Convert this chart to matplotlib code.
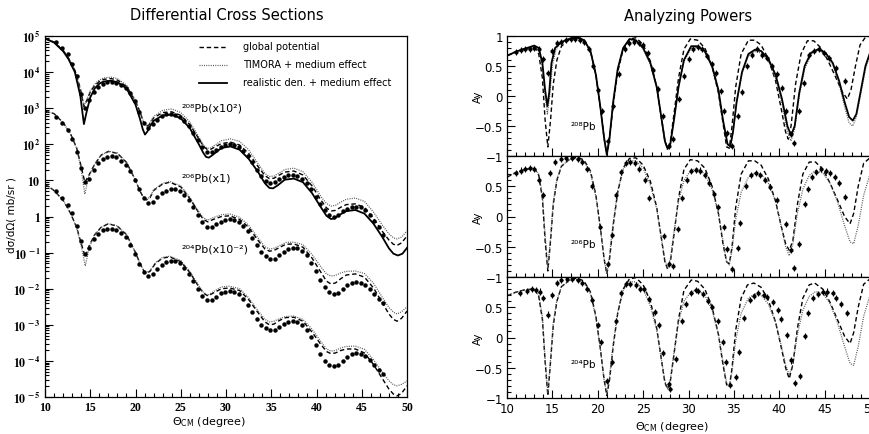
import numpy as np
import matplotlib
matplotlib.use("Agg")
import matplotlib.pyplot as plt
from matplotlib.ticker import MultipleLocator, LogLocator, NullFormatter

# ---------------- data: differential cross sections (log10 of mb/sr) ----------------
xs208_global = [(10,4.93),(11,4.83),(12,4.6),(12.6,4.38),(13.3,4.05),(13.9,3.55),(14.3,3.05),(14.6,3.2),(15,3.45),(15.5,3.63),(16,3.74),(16.5,3.8),(17.3,3.82),(18,3.78),(19,3.6),(20,3.2),(20.5,2.9),(20.9,2.6),(21.2,2.49),(21.5,2.54),(22,2.73),(23,2.88),(24,2.9),(25,2.8),(26,2.55),(27,2.15),(27.5,1.95),(27.9,1.86),(28.3,1.86),(28.8,1.93),(29.5,2.02),(30.5,2.06),(31.5,1.98),(32.5,1.75),(33.5,1.4),(34.3,1.13),(34.8,1.05),(35.3,1.06),(35.9,1.15),(36.5,1.23),(37.5,1.26),(38.5,1.15),(39.5,0.85),(40.5,0.45),(41.1,0.24),(41.6,0.15),(42.1,0.17),(42.7,0.26),(43.3,0.33),(44.3,0.35),(45.3,0.25),(46.3,-0.05),(47.3,-0.42),(48.0,-0.65),(48.5,-0.77),(48.9,-0.8),(49.4,-0.73),(50,-0.54)]
xs208_timora = [(10,4.93),(11,4.84),(12,4.61),(12.6,4.4),(13.3,4.07),(13.9,3.5),(14.3,3.08),(14.6,3.22),(15,3.48),(15.5,3.67),(16,3.78),(16.5,3.84),(17.3,3.86),(18,3.82),(19,3.64),(20,3.22),(20.5,2.9),(20.9,2.62),(21.2,2.51),(21.5,2.56),(22,2.77),(23,2.94),(24,2.98),(25,2.88),(26,2.62),(27,2.2),(27.5,1.98),(27.9,1.89),(28.3,1.9),(28.8,1.98),(29.5,2.1),(30.5,2.15),(31.5,2.08),(32.5,1.85),(33.5,1.48),(34.3,1.19),(34.8,1.11),(35.3,1.12),(35.9,1.21),(36.5,1.3),(37.5,1.34),(38.5,1.24),(39.5,0.95),(40.5,0.55),(41.1,0.36),(41.6,0.29),(42.1,0.31),(42.7,0.4),(43.3,0.48),(44.3,0.51),(45.3,0.42),(46.3,0.12),(47.3,-0.25),(48.0,-0.48),(48.5,-0.59),(48.9,-0.62),(49.4,-0.57),(50,-0.4)]
xs208_real = [(10,4.93),(11,4.82),(12,4.58),(12.6,4.36),(13.3,4.0),(13.9,3.35),(14.3,2.56),(14.6,2.9),(15,3.3),(15.5,3.55),(16,3.68),(16.5,3.74),(17.3,3.76),(18,3.72),(19,3.55),(20,3.1),(20.5,2.7),(20.8,2.42),(21.05,2.27),(21.3,2.35),(21.6,2.5),(22,2.65),(23,2.8),(24,2.82),(25,2.72),(26,2.45),(27,2.0),(27.5,1.76),(27.8,1.65),(28.1,1.63),(28.5,1.7),(29.5,1.9),(30.5,1.94),(31.5,1.85),(32.5,1.6),(33.5,1.25),(34.3,0.92),(34.8,0.79),(35.2,0.78),(35.7,0.86),(36.5,1.02),(37.5,1.05),(38.5,0.95),(39.5,0.65),(40.5,0.25),(41.1,0.02),(41.6,-0.07),(42.0,-0.05),(42.5,0.04),(43.3,0.15),(44.3,0.18),(45.3,0.08),(46.3,-0.2),(47.3,-0.58),(48.0,-0.88),(48.5,-1.03),(49.0,-1.08),(49.5,-1.03),(50,-0.87)]
xs206_global = [(10,2.92),(11,2.85),(12,2.6),(12.8,2.3),(13.5,1.9),(14.0,1.38),(14.4,0.95),(14.8,1.12),(15.5,1.45),(16.2,1.7),(17.0,1.8),(18.0,1.75),(19.0,1.5),(20.0,1.0),(20.5,0.7),(20.9,0.52),(21.2,0.46),(21.6,0.52),(22.0,0.72),(23.0,0.9),(23.8,0.95),(25.0,0.82),(26.0,0.5),(27.0,0.1),(27.5,-0.08),(28.0,-0.15),(28.6,-0.08),(29.5,0.0),(30.4,0.02),(31.5,-0.08),(32.5,-0.3),(33.5,-0.65),(34.3,-0.9),(34.8,-0.96),(35.3,-0.94),(35.9,-0.86),(36.6,-0.77),(37.5,-0.76),(38.5,-0.85),(39.5,-1.15),(40.5,-1.55),(41.1,-1.79),(41.6,-1.87),(42.1,-1.84),(42.7,-1.72),(43.3,-1.62),(44.3,-1.59),(45.3,-1.68),(46.3,-1.98),(47.3,-2.4),(48.0,-2.7),(48.5,-2.85),(48.9,-2.9),(49.4,-2.82),(50,-2.62)]
xs206_timora = [(10,2.92),(11,2.85),(12,2.6),(12.8,2.3),(13.5,1.88),(14.0,1.3),(14.4,0.62),(14.8,1.08),(15.5,1.45),(16.2,1.7),(17.0,1.81),(18.0,1.76),(19.0,1.5),(20.0,1.0),(20.5,0.7),(20.9,0.52),(21.2,0.47),(21.6,0.54),(22.0,0.74),(23.0,0.92),(23.8,0.97),(25.0,0.85),(26.0,0.53),(27.0,0.13),(27.5,-0.04),(28.0,-0.1),(28.6,-0.03),(29.5,0.05),(30.4,0.07),(31.5,-0.02),(32.5,-0.24),(33.5,-0.58),(34.3,-0.84),(34.8,-0.9),(35.3,-0.88),(35.9,-0.81),(36.6,-0.72),(37.5,-0.71),(38.5,-0.78),(39.5,-1.05),(40.5,-1.4),(41.1,-1.59),(41.6,-1.65),(42.1,-1.63),(42.7,-1.56),(43.3,-1.52),(44.3,-1.51),(45.3,-1.58),(46.3,-1.85),(47.3,-2.25),(48.0,-2.52),(48.5,-2.65),(48.9,-2.7),(49.4,-2.64),(50,-2.5)]
xs204_global = [(10,0.9),(11,0.72),(12,0.45),(12.8,0.1),(13.5,-0.3),(14.0,-0.75),(14.45,-1.12),(14.9,-0.8),(15.5,-0.5),(16.2,-0.3),(17.0,-0.2),(18.0,-0.27),(19.0,-0.5),(20.0,-1.0),(20.5,-1.3),(20.9,-1.5),(21.2,-1.57),(21.6,-1.52),(22.2,-1.3),(23.0,-1.15),(23.8,-1.12),(25.0,-1.25),(26.0,-1.55),(27.0,-1.95),(27.5,-2.12),(28.0,-2.2),(28.6,-2.12),(29.5,-2.0),(30.4,-1.98),(31.5,-2.05),(32.5,-2.3),(33.5,-2.65),(34.3,-2.92),(34.8,-3.0),(35.3,-2.98),(35.9,-2.88),(36.6,-2.8),(37.5,-2.79),(38.5,-2.9),(39.5,-3.2),(40.5,-3.55),(41.1,-3.74),(41.6,-3.8),(42.1,-3.78),(42.7,-3.71),(43.3,-3.67),(44.3,-3.67),(45.3,-3.78),(46.3,-4.1),(47.3,-4.5),(48.0,-4.78),(48.5,-4.92),(48.9,-4.97),(49.4,-4.9),(50,-4.69)]
xs204_timora = [(10,0.9),(11,0.72),(12,0.45),(12.8,0.1),(13.5,-0.32),(14.0,-0.82),(14.45,-1.37),(14.9,-0.85),(15.5,-0.5),(16.2,-0.3),(17.0,-0.2),(18.0,-0.26),(19.0,-0.5),(20.0,-1.0),(20.5,-1.3),(20.9,-1.49),(21.2,-1.56),(21.6,-1.5),(22.2,-1.28),(23.0,-1.13),(23.8,-1.1),(25.0,-1.22),(26.0,-1.52),(27.0,-1.92),(27.5,-2.1),(28.0,-2.18),(28.6,-2.08),(29.5,-1.95),(30.4,-1.93),(31.5,-2.0),(32.5,-2.25),(33.5,-2.6),(34.3,-2.85),(34.8,-2.92),(35.3,-2.9),(35.9,-2.83),(36.6,-2.77),(37.5,-2.76),(38.5,-2.85),(39.5,-3.12),(40.5,-3.47),(41.1,-3.67),(41.6,-3.73),(42.1,-3.71),(42.7,-3.64),(43.3,-3.6),(44.3,-3.59),(45.3,-3.68),(46.3,-3.97),(47.3,-4.32),(48.0,-4.55),(48.5,-4.66),(48.9,-4.69),(49.4,-4.65),(50,-4.56)]

xs_theta = [11.2, 11.9, 12.5, 13.0, 13.5, 14.0, 14.4, 14.9, 15.4, 15.9,
            16.4, 16.9, 17.4, 17.9, 18.4, 18.9, 19.4, 19.9, 20.4, 20.9,
            21.4, 21.9, 22.4, 22.9, 23.4, 23.9, 24.4, 24.9, 25.4, 25.9,
            26.4, 26.9, 27.4, 27.9, 28.4, 28.9, 29.4, 29.9, 30.4, 30.9,
            31.4, 31.9, 32.4, 32.9, 33.4, 33.9, 34.4, 34.9, 35.4, 35.9,
            36.4, 36.9, 37.4, 37.9, 38.4, 38.9, 39.4, 39.9, 40.4, 40.9,
            41.4, 41.9, 42.4, 42.9, 43.4, 43.9, 44.4, 44.9, 45.4, 45.9,
            46.4, 46.9, 47.4]
xs208_data = [4.82, 4.68, 4.5, 4.22, 3.88, 3.4, 3.0, 3.22, 3.45, 3.6,
              3.68, 3.72, 3.73, 3.7, 3.65, 3.55, 3.42, 3.2, 2.9, 2.6,
              2.45, 2.55, 2.68, 2.78, 2.83, 2.84, 2.82, 2.75, 2.65, 2.5,
              2.32, 2.12, 1.92, 1.8, 1.78, 1.85, 1.92, 1.97, 2.0, 1.98,
              1.92, 1.82, 1.68, 1.5, 1.3, 1.12, 0.98, 0.92, 0.95, 1.03,
              1.1, 1.15, 1.16, 1.12, 1.05, 0.92, 0.75, 0.55, 0.35, 0.18,
              0.05, 0.0, 0.05, 0.15, 0.22, 0.26, 0.27, 0.25, 0.18, 0.05,
              -0.12, -0.3, -0.5]
xs206_data = [2.75, 2.6, 2.4, 2.15, 1.8, 1.35, 0.95, 1.05, 1.3, 1.48,
              1.6, 1.66, 1.68, 1.64, 1.55, 1.42, 1.25, 1.02, 0.75, 0.5,
              0.38, 0.4, 0.55, 0.65, 0.72, 0.76, 0.76, 0.7, 0.6, 0.45,
              0.25, 0.05, -0.15, -0.28, -0.3, -0.22, -0.15, -0.1, -0.08, -0.1,
              -0.15, -0.25, -0.4, -0.6, -0.8, -0.98, -1.1, -1.17, -1.17, -1.08,
              -0.98, -0.9, -0.87, -0.88, -0.95, -1.08, -1.28, -1.5, -1.75, -1.95,
              -2.08, -2.15, -2.12, -2.0, -1.9, -1.83, -1.81, -1.83, -1.9, -2.02,
              -2.15, -2.28, -2.4]
xs204_data = [0.72, 0.52, 0.33, 0.1, -0.25, -0.68, -1.05, -0.88, -0.62, -0.48,
              -0.38, -0.34, -0.34, -0.38, -0.45, -0.58, -0.78, -1.05, -1.32, -1.55,
              -1.65, -1.6, -1.45, -1.33, -1.25, -1.22, -1.24, -1.3, -1.42, -1.6,
              -1.8, -2.0, -2.2, -2.3, -2.32, -2.22, -2.13, -2.08, -2.06, -2.08,
              -2.15, -2.28, -2.45, -2.65, -2.85, -3.0, -3.1, -3.15, -3.15, -3.07,
              -2.98, -2.92, -2.9, -2.92, -3.0, -3.15, -3.35, -3.55, -3.8, -4.0,
              -4.1, -4.15, -4.12, -4.0, -3.88, -3.8, -3.78, -3.8, -3.87, -3.98,
              -4.1, -4.25, -4.35]

# ---------------- data: analyzing powers ----------------
ay208_global = [(10,0.67),(11,0.74),(12,0.79),(13,0.82),(13.5,0.7),(13.9,0.3),(14.2,-0.4),(14.5,-0.85),(14.8,-0.4),(15.1,0.2),(15.5,0.6),(16,0.83),(17,0.96),(17.8,0.98),(18.5,0.93),(19.2,0.75),(19.8,0.35),(20.3,-0.2),(20.7,-0.7),(21.0,-0.98),(21.3,-0.7),(21.7,-0.15),(22.2,0.4),(22.8,0.78),(23.5,0.95),(24.2,0.97),(25,0.86),(25.8,0.58),(26.5,0.15),(27.0,-0.35),(27.4,-0.75),(27.7,-0.88),(28.0,-0.75),(28.4,-0.3),(28.9,0.3),(29.5,0.78),(30.2,0.95),(31,0.93),(31.8,0.8),(32.6,0.5),(33.3,0.05),(33.8,-0.45),(34.2,-0.85),(34.5,-0.87),(34.8,-0.5),(35.2,0.15),(35.8,0.7),(36.6,0.93),(37.3,0.93),(38,0.85),(38.8,0.62),(39.6,0.25),(40.2,-0.2),(40.7,-0.6),(41.0,-0.72),(41.3,-0.5),(41.8,0.2),(42.4,0.7),(43.1,0.92),(43.8,0.92),(44.6,0.8),(45.4,0.58),(46.2,0.32),(46.9,0.08),(47.5,-0.05),(47.9,0.1),(48.4,0.5),(48.9,0.85),(49.5,0.98),(50,1.0)]
ay208_timora = [(10,0.67),(11,0.74),(12,0.79),(13,0.83),(13.5,0.78),(13.9,0.5),(14.2,0.0),(14.45,-0.3),(14.7,0.0),(15.0,0.5),(15.4,0.78),(16,0.9),(17,0.96),(17.8,0.96),(18.5,0.92),(19.2,0.73),(19.8,0.33),(20.3,-0.2),(20.7,-0.7),(21.0,-0.97),(21.3,-0.68),(21.7,-0.1),(22.2,0.45),(22.8,0.8),(23.5,0.94),(24.2,0.92),(25,0.79),(25.8,0.53),(26.5,0.13),(27.0,-0.37),(27.4,-0.77),(27.7,-0.9),(28.0,-0.78),(28.4,-0.38),(28.9,0.15),(29.5,0.58),(30.3,0.8),(31,0.81),(31.8,0.72),(32.6,0.47),(33.3,0.06),(33.8,-0.43),(34.3,-0.83),(34.6,-0.87),(34.9,-0.62),(35.3,-0.12),(35.9,0.38),(36.6,0.67),(37.3,0.74),(38,0.72),(38.8,0.58),(39.6,0.3),(40.3,-0.12),(40.9,-0.6),(41.3,-0.75),(41.7,-0.55),(42.2,0.0),(42.8,0.45),(43.5,0.7),(44.3,0.76),(45.1,0.7),(45.9,0.52),(46.6,0.2),(47.2,-0.18),(47.7,-0.45),(48.1,-0.5),(48.5,-0.35),(49.0,0.05),(49.5,0.45),(50,0.68)]
ay208_real = [(10,0.67),(11,0.74),(12,0.79),(13,0.84),(13.5,0.8),(13.9,0.55),(14.2,0.1),(14.45,-0.17),(14.65,0.05),(14.9,0.55),(15.3,0.8),(16,0.9),(17,0.96),(17.8,0.97),(18.5,0.93),(19.2,0.75),(19.8,0.35),(20.3,-0.2),(20.7,-0.7),(21.0,-0.98),(21.3,-0.7),(21.7,-0.1),(22.2,0.45),(22.8,0.8),(23.5,0.95),(24.2,0.93),(25,0.8),(25.8,0.55),(26.5,0.15),(27.0,-0.35),(27.4,-0.75),(27.7,-0.88),(28.0,-0.8),(28.4,-0.4),(28.9,0.15),(29.5,0.6),(30.3,0.83),(31,0.83),(31.8,0.75),(32.6,0.5),(33.3,0.1),(33.8,-0.4),(34.3,-0.8),(34.6,-0.84),(34.9,-0.6),(35.3,-0.1),(35.9,0.4),(36.6,0.7),(37.3,0.77),(38,0.75),(38.8,0.62),(39.6,0.35),(40.3,-0.05),(40.9,-0.5),(41.3,-0.66),(41.7,-0.5),(42.2,0.05),(42.8,0.5),(43.5,0.72),(44.3,0.78),(45.1,0.72),(45.9,0.55),(46.6,0.25),(47.2,-0.1),(47.7,-0.35),(48.1,-0.41),(48.5,-0.3),(49.0,0.1),(49.5,0.5),(50,0.72)]
ay206_global = [(10,0.65),(11,0.73),(12,0.78),(13,0.8),(13.5,0.68),(13.9,0.3),(14.2,-0.4),(14.5,-0.9),(14.8,-0.4),(15.1,0.2),(15.5,0.6),(16,0.83),(17,0.96),(17.8,0.98),(18.5,0.93),(19.2,0.75),(19.8,0.35),(20.3,-0.2),(20.7,-0.7),(21.0,-0.95),(21.3,-0.7),(21.7,-0.15),(22.2,0.4),(22.8,0.8),(23.5,0.96),(24.2,0.97),(25,0.85),(25.8,0.58),(26.5,0.15),(27.0,-0.35),(27.4,-0.75),(27.7,-0.87),(28.0,-0.75),(28.4,-0.3),(28.9,0.3),(29.5,0.78),(30.2,0.94),(31,0.92),(31.8,0.8),(32.6,0.5),(33.3,0.05),(33.8,-0.45),(34.2,-0.75),(34.5,-0.78),(34.8,-0.5),(35.2,0.15),(35.8,0.7),(36.6,0.92),(37.3,0.92),(38,0.85),(38.8,0.62),(39.6,0.25),(40.2,-0.15),(40.7,-0.45),(41.1,-0.56),(41.5,-0.4),(42.0,0.2),(42.6,0.7),(43.3,0.9),(44.0,0.9),(44.8,0.78),(45.6,0.55),(46.4,0.28),(47.2,0.0),(47.8,-0.12),(48.2,0.05),(48.7,0.5),(49.3,0.88),(50,0.97)]
ay206_timora = [(10,0.65),(11,0.73),(12,0.78),(13,0.8),(13.5,0.7),(13.9,0.35),(14.2,-0.3),(14.5,-0.85),(14.8,-0.35),(15.1,0.25),(15.5,0.62),(16,0.84),(17,0.95),(17.8,0.96),(18.5,0.91),(19.2,0.72),(19.8,0.32),(20.3,-0.2),(20.7,-0.7),(21.0,-0.95),(21.3,-0.65),(21.7,-0.1),(22.2,0.42),(22.8,0.78),(23.5,0.92),(24.2,0.92),(25,0.8),(25.8,0.52),(26.5,0.12),(27.0,-0.35),(27.4,-0.72),(27.7,-0.85),(28.0,-0.7),(28.4,-0.25),(28.9,0.25),(29.5,0.6),(30.3,0.77),(31,0.79),(31.8,0.7),(32.6,0.45),(33.3,0.05),(33.8,-0.4),(34.2,-0.75),(34.5,-0.8),(34.8,-0.55),(35.2,-0.05),(35.8,0.4),(36.6,0.65),(37.3,0.72),(38,0.7),(38.8,0.55),(39.6,0.25),(40.2,-0.15),(40.7,-0.5),(41.1,-0.65),(41.5,-0.45),(42.0,0.05),(42.6,0.45),(43.3,0.68),(44,0.76),(44.8,0.72),(45.6,0.55),(46.4,0.25),(47.2,-0.15),(47.8,-0.42),(48.2,-0.45),(48.7,-0.15),(49.3,0.35),(50,0.7)]
ay204_global = [(10,0.69),(11,0.75),(12,0.79),(13,0.8),(13.5,0.68),(13.9,0.3),(14.2,-0.4),(14.5,-0.96),(14.8,-0.4),(15.1,0.2),(15.5,0.6),(16,0.84),(17,0.97),(17.8,0.98),(18.5,0.93),(19.2,0.75),(19.8,0.35),(20.3,-0.2),(20.7,-0.7),(21.0,-0.96),(21.3,-0.7),(21.7,-0.15),(22.2,0.4),(22.8,0.8),(23.5,0.97),(24.2,0.99),(25,0.87),(25.8,0.6),(26.5,0.15),(27.0,-0.35),(27.4,-0.75),(27.7,-0.85),(28.0,-0.72),(28.4,-0.28),(28.9,0.3),(29.5,0.78),(30.3,0.95),(31,0.93),(31.8,0.8),(32.6,0.5),(33.3,0.05),(33.8,-0.45),(34.2,-0.78),(34.5,-0.82),(34.8,-0.5),(35.2,0.12),(35.8,0.65),(36.5,0.87),(37.2,0.9),(38,0.83),(38.8,0.62),(39.6,0.25),(40.2,-0.15),(40.7,-0.5),(41.1,-0.68),(41.5,-0.45),(42.0,0.15),(42.6,0.65),(43.3,0.87),(43.9,0.9),(44.8,0.8),(45.6,0.58),(46.4,0.3),(47.2,0.02),(47.8,-0.1),(48.2,0.08),(48.7,0.5),(49.3,0.88),(50,0.97)]
ay204_timora = [(10,0.69),(11,0.75),(12,0.79),(13,0.8),(13.5,0.7),(13.9,0.35),(14.2,-0.35),(14.5,-0.92),(14.8,-0.35),(15.1,0.25),(15.5,0.62),(16,0.84),(17,0.95),(17.8,0.96),(18.5,0.9),(19.2,0.72),(19.8,0.32),(20.3,-0.2),(20.7,-0.7),(21.0,-0.93),(21.3,-0.65),(21.7,-0.1),(22.2,0.42),(22.8,0.78),(23.5,0.92),(24.2,0.92),(25,0.8),(25.8,0.52),(26.5,0.12),(27.0,-0.35),(27.4,-0.72),(27.7,-0.85),(28.0,-0.7),(28.4,-0.25),(28.9,0.25),(29.5,0.6),(30.3,0.76),(31,0.78),(31.8,0.7),(32.6,0.45),(33.3,0.05),(33.8,-0.4),(34.2,-0.75),(34.5,-0.8),(34.8,-0.55),(35.2,-0.05),(35.8,0.4),(36.6,0.65),(37.3,0.72),(38,0.7),(38.8,0.55),(39.6,0.25),(40.2,-0.12),(40.7,-0.45),(41.1,-0.62),(41.5,-0.45),(42.0,0.05),(42.6,0.45),(43.3,0.68),(44,0.76),(44.8,0.73),(45.6,0.56),(46.4,0.25),(47.2,-0.15),(47.8,-0.43),(48.2,-0.46),(48.7,-0.15),(49.3,0.35),(50,0.7)]

ay208_data = [(11.0,0.73),(11.5,0.76),(12.0,0.78),(12.5,0.79),(13.0,0.8),(13.5,0.78),(14.0,0.62),(14.5,0.38),(15.0,0.75),(15.5,0.88),(16.0,0.9),(16.5,0.93),(17.0,0.95),(17.5,0.95),(18.0,0.94),(18.5,0.9),(19.0,0.78),(19.5,0.5),(20.0,0.1),(20.5,-0.25),(21.1,-0.75),(21.7,-0.17),(22.3,0.36),(23.0,0.78),(23.4,0.88),(24.0,0.9),(24.5,0.89),(25.0,0.85),(25.5,0.72),(26.1,0.44),(26.6,0.11),(27.2,-0.33),(27.8,-0.83),(28.3,-0.72),(29.0,-0.05),(29.5,0.33),(30.1,0.61),(30.5,0.78),(31.0,0.81),(31.5,0.78),(32.0,0.67),(32.6,0.53),(33.0,0.39),(33.6,0.08),(33.9,-0.25),(34.2,-0.61),(34.8,-0.83),(35.4,-0.33),(35.9,0.06),(36.5,0.5),(37.0,0.69),(37.6,0.78),(38.1,0.69),(38.7,0.64),(39.2,0.5),(39.8,0.36),(40.3,0.14),(40.7,-0.25),(41.3,-0.64),(41.6,-0.78),(42.2,-0.25),(42.7,0.22),(43.3,0.69),(43.8,0.75),(44.4,0.78),(44.9,0.72),(45.5,0.64),(46.2,0.47),(47.3,0.25)]
ay206_data = [(11.0,0.72),(11.5,0.76),(12.0,0.78),(12.5,0.8),(13.0,0.78),(13.5,0.6),(14.0,0.35),(14.7,0.72),(15.3,0.9),(16.0,0.95),(16.5,0.97),(17.2,0.97),(17.8,0.95),(18.3,0.9),(18.8,0.78),(19.4,0.5),(20.3,-0.18),(21.1,-0.79),(21.6,-0.3),(22.0,0.35),(22.6,0.73),(23.1,0.88),(23.6,0.9),(24.1,0.88),(24.6,0.78),(25.2,0.6),(25.7,0.3),(27.3,-0.32),(27.9,-0.79),(28.3,-0.82),(28.8,-0.21),(29.3,0.3),(29.8,0.6),(30.3,0.75),(30.8,0.77),(31.3,0.76),(31.8,0.68),(32.3,0.55),(32.8,0.37),(33.3,0.15),(33.9,-0.18),(34.2,-0.53),(34.8,-0.87),(35.4,-0.52),(35.7,-0.1),(36.3,0.5),(36.9,0.69),(37.4,0.72),(37.9,0.69),(38.4,0.6),(39.0,0.49),(39.7,0.27),(40.7,-0.12),(41.3,-0.55),(41.6,-0.85),(42.2,-0.45),(42.8,0.2),(43.2,0.45),(43.6,0.65),(44.1,0.74),(44.6,0.78),(45.1,0.75),(45.6,0.72),(46.1,0.65),(46.6,0.55),(47.3,0.33)]
ay204_data = [(11.4,0.74),(12.2,0.77),(12.8,0.8),(13.2,0.79),(13.6,0.76),(14.0,0.65),(14.5,0.38),(15.0,0.7),(15.5,0.9),(16.0,0.95),(16.6,0.96),(17.2,0.97),(17.8,0.95),(18.3,0.9),(18.8,0.8),(19.4,0.62),(20.0,0.2),(20.4,-0.07),(21.0,-0.72),(21.6,-0.4),(22.0,0.28),(22.6,0.73),(23.1,0.88),(23.6,0.89),(24.2,0.86),(24.7,0.8),(25.1,0.8),(25.7,0.63),(26.3,0.42),(26.7,0.2),(27.2,-0.25),(27.8,-0.77),(28.0,-0.85),(28.6,-0.35),(29.3,0.27),(29.7,0.56),(30.3,0.73),(30.8,0.78),(31.1,0.77),(31.6,0.72),(32.1,0.6),(32.6,0.5),(33.2,0.27),(33.8,-0.07),(34.1,-0.4),(34.6,-0.78),(35.2,-0.65),(35.6,-0.24),(36.1,0.32),(36.8,0.62),(37.2,0.68),(37.7,0.73),(38.3,0.7),(38.6,0.67),(39.3,0.58),(39.9,0.45),(40.2,0.31),(40.8,0.04),(41.3,-0.38),(41.7,-0.75),(42.3,-0.64),(42.8,0.02),(43.2,0.4),(43.7,0.66),(44.3,0.72),(44.8,0.75),(45.3,0.76),(45.9,0.74),(46.2,0.66),(46.8,0.56),(47.5,0.4)]

xs_ticks = [1e5, 1e4, 1e3, 1e2, 10, 1, 1e-1, 1e-2, 1e-3, 1e-4, 1e-5]
xs_ticklabels = [r'$\mathbf{10^{\,5}}$', r'$\mathbf{10^{\,4}}$', r'$\mathbf{10^{\,3}}$', r'$\mathbf{10^{\,2}}$',
                 r'$\mathbf{10}$', r'$\mathbf{1}$', r'$\mathbf{10^{\,-1}}$', r'$\mathbf{10^{\,-2}}$',
                 r'$\mathbf{10^{\,-3}}$', r'$\mathbf{10^{\,-4}}$', r'$\mathbf{10^{\,-5}}$']
x_ticks = [10, 15, 20, 25, 30, 35, 40, 45, 50]
ay_ticks = [-1, -0.5, 0, 0.5, 1]
ay_ticklabels_top = ['\u22121', '\u22120.5', '0', '0.5', '1']
ay_ticklabels_low = ['\u22121', '\u22120.5', '0', '0.5', '']

legend_labels = ['global potential', 'TIMORA + medium effect', 'realistic den. + medium effect']
xs_labels = ['\u00b2\u2070\u2078Pb(x10\u00b2)', '\u00b2\u2070\u2076Pb(x1)', '\u00b2\u2070\u2074Pb(x10\u207b\u00b2)']
ay_labels = ['\u00b2\u2070\u2078Pb', '\u00b2\u2070\u2076Pb', '\u00b2\u2070\u2074Pb']

# ---------------- styles ----------------
DASH = dict(color='black', lw=1.0, ls=(0, (3.2, 2.0)))
DOT = dict(color='0.35', lw=0.9, ls=(0, (0.8, 1.0)))
SOLID = dict(color='black', lw=1.3, ls='-')

plt.rcParams['font.family'] = ['DejaVu Sans']

fig = plt.figure(figsize=(8.69, 4.35), dpi=100)
W, H = 869.0, 435.0

def arr(pairs):
    a = np.array(pairs, dtype=float)
    return a[:, 0], a[:, 1]

# ---------------- left panel ----------------
axL = fig.add_axes([45 / W, 1 - 398 / H, 362 / W, 361 / H])
for curve, st in [(xs208_global, DASH), (xs208_timora, DOT), (xs208_real, SOLID),
                  (xs206_global, DASH), (xs206_timora, DOT),
                  (xs204_global, DASH), (xs204_timora, DOT)]:
    t, v = arr(curve)
    axL.plot(t, 10 ** v, **st)
for dat in [xs208_data, xs206_data, xs204_data]:
    axL.plot(xs_theta, 10 ** np.array(dat), 'o', color='black', ms=3.2, mew=0)

axL.set_yscale('log')
axL.set_xlim(10, 50)
axL.set_ylim(1e-5, 1e5)
axL.set_yticks(xs_ticks)
axL.set_yticklabels(xs_ticklabels)
axL.yaxis.set_minor_locator(LogLocator(base=10, subs=np.arange(2, 10), numticks=30))
axL.yaxis.set_minor_formatter(NullFormatter())
axL.set_xticks(x_ticks)
axL.set_xticklabels([str(v) for v in x_ticks])
axL.xaxis.set_minor_locator(MultipleLocator(1))
axL.tick_params(which='both', direction='in', top=False, right=False, width=0.8)
axL.tick_params(which='major', length=6, pad=3)
axL.tick_params(which='minor', length=3)
for lbl in axL.get_yticklabels() + axL.get_xticklabels():
    lbl.set_math_fontfamily('stix')
    lbl.set_fontfamily('Liberation Serif')
    lbl.set_fontweight('bold')
    lbl.set_fontsize(8.5)
for s in axL.spines.values():
    s.set_linewidth(0.9)

# legend drawn by hand as in the original
for i, (lab, st) in enumerate(zip(legend_labels, [DASH, DOT, SOLID])):
    yy = [0.9695, 0.9197, 0.8698][i]
    axL.plot([0.425, 0.503], [yy, yy], transform=axL.transAxes, **st)
    axL.text(0.547, yy + 0.003, lab, transform=axL.transAxes, fontsize=7, va='center', ha='left')

for lab, yy in zip(xs_labels, [0.803, 0.609, 0.41]):
    axL.text(0.378, yy, lab, transform=axL.transAxes, fontsize=8, va='center', ha='left')

fig.text(12 / W, 1 - 215 / H, 'd\u03c3/d\u03a9( mb/sr )', rotation=90, fontsize=7.5, ha='center', va='center')
fig.text(209 / W, 1 - 422 / H, r'$\Theta_{\rm CM}$ (degree)', fontsize=8, ha='center', va='center')
fig.text(227 / W, 1 - 16 / H, 'Differential Cross Sections', fontsize=10.5, ha='center', va='center')

# ---------------- right panels ----------------
panel_px = [(37, 157), (157, 278), (278, 399)]
ay_sets = [
    ([(ay208_global, DASH), (ay208_timora, DOT), (ay208_real, SOLID)], ay208_data),
    ([(ay206_global, DASH), (ay206_timora, DOT)], ay206_data),
    ([(ay204_global, DASH), (ay204_timora, DOT)], ay204_data),
]
label_y = [0.25, 0.273, 0.28]
for k, ((top, bot), (curves, data)) in enumerate(zip(panel_px, ay_sets)):
    ax = fig.add_axes([507 / W, 1 - bot / H, 363 / W, (bot - top) / H])
    for curve, st in curves:
        t, v = arr(curve)
        ax.plot(t, v, **st)
    t, v = arr(data)
    ax.errorbar(t, v, yerr=0.05, xerr=0.15, fmt='o', color='black', ms=3.0, mew=0,
                elinewidth=0.8, capsize=0)
    ax.set_xlim(10, 50)
    ax.set_ylim(-1, 1)
    ax.set_yticks(ay_ticks)
    ax.set_yticklabels(ay_ticklabels_top if k == 0 else ay_ticklabels_low)
    ax.yaxis.set_minor_locator(MultipleLocator(0.1))
    ax.set_xticks(x_ticks)
    ax.xaxis.set_minor_locator(MultipleLocator(1))
    if k < 2:
        ax.set_xticklabels([])
    else:
        ax.set_xticklabels([str(v) for v in x_ticks])
    ax.tick_params(which='both', direction='in', top=False, right=False, width=0.8, labelsize=8.5)
    ax.tick_params(which='major', length=6, pad=3)
    ax.tick_params(which='minor', length=3)
    for s in ax.spines.values():
        s.set_linewidth(0.9)
    ax.text(0.174, label_y[k], ay_labels[k], transform=ax.transAxes, fontsize=7.5, va='center', ha='left')
    fig.text(478 / W, 1 - (top + bot) / 2 / H, 'Ay', rotation=90, fontsize=7.5, ha='center', va='center')

fig.text(672 / W, 1 - 427 / H, r'$\Theta_{\rm CM}$ (degree)', fontsize=8, ha='center', va='center')
fig.text(688 / W, 1 - 16 / H, 'Analyzing Powers', fontsize=10.5, ha='center', va='center')

fig.savefig('out.png', dpi=100)
